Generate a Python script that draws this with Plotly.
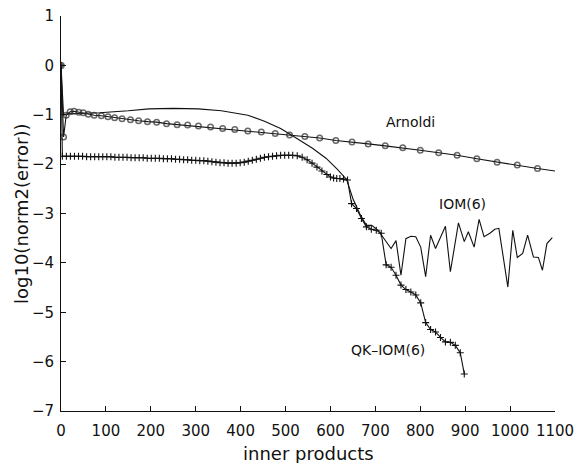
import plotly.graph_objects as go

# ---------------- data ----------------
arnoldi_x = [0, 5.7, 11.6, 20.4, 29.2, 39.6, 49.7, 60.7, 73.9, 90, 104.7, 119.4, 136, 154.6,
             172.8, 192.6, 213, 235, 258.6, 282, 306, 333, 360, 387, 416, 446, 477, 509,
             543, 576, 612, 648, 684, 722, 761, 800, 841, 882, 926, 971, 1016, 1061, 1101]
arnoldi_y = [0, -1.45, -1.01, -0.94, -0.93, -0.95, -0.96, -0.99, -1.01, -1.02, -1.04, -1.06,
             -1.08, -1.10, -1.12, -1.14, -1.15, -1.18, -1.20, -1.21, -1.23, -1.25, -1.28,
             -1.30, -1.33, -1.35, -1.38, -1.41, -1.44, -1.47, -1.52, -1.55, -1.59, -1.63,
             -1.67, -1.72, -1.77, -1.82, -1.89, -1.96, -2.02, -2.09, -2.14]

iom_x = [0, 5.7, 13, 86, 150, 196, 250, 306, 357, 416, 453, 489, 511, 533, 560, 590, 615,
         636, 650, 665, 680, 692, 706, 735, 746, 757, 768, 779, 790, 801, 812, 823, 834,
         856, 867, 885, 898, 907, 920, 931, 942, 955, 966, 975, 984, 995, 1006, 1016,
         1028, 1039, 1052, 1063, 1072, 1082, 1094]
iom_y = [0, -1.01, -0.98, -0.96, -0.92, -0.88, -0.87, -0.88, -0.92, -1.01, -1.13, -1.28,
         -1.40, -1.52, -1.68, -1.88, -2.10, -2.31, -2.70, -3.00, -3.24, -3.24, -3.34,
         -3.71, -3.55, -4.25, -3.51, -3.46, -3.47, -3.68, -4.28, -3.44, -3.71, -3.26,
         -4.18, -3.19, -3.57, -3.37, -3.68, -3.12, -3.47, -3.40, -3.32, -3.30, -3.81,
         -4.49, -3.34, -3.89, -3.81, -3.44, -3.88, -3.89, -4.15, -3.61, -3.49]

qk_x = [0, 3, 12, 21, 30, 39, 48, 57, 66, 75, 84, 93, 102, 111, 120, 129, 138, 147, 156,
        165, 174, 183, 192, 201, 210, 219, 228, 237, 246, 255, 264, 273, 282, 291, 300,
        309, 318, 327, 336, 345, 354, 363, 372, 381, 390, 399, 408, 417, 426, 435, 444,
        453, 462, 471, 480, 489, 498, 507, 516, 526, 537, 548, 559, 570, 581, 592, 600,
        607, 614, 621, 629, 638, 647, 658, 669, 680, 691, 702, 713, 724, 735, 746, 757,
        768, 779, 790, 801, 812, 823, 834, 845, 856, 867, 878, 889, 898]
qk_y = [0, -1.84,
        -1.84, -1.84, -1.84, -1.84, -1.84, -1.85, -1.85, -1.85, -1.85, -1.85, -1.85, -1.85, -1.86,
        -1.86, -1.86, -1.86, -1.87, -1.87, -1.87, -1.87, -1.88, -1.88, -1.88, -1.88, -1.89,
        -1.89, -1.89, -1.90, -1.90, -1.91, -1.91, -1.92, -1.92,
        -1.93, -1.93, -1.94, -1.95, -1.96, -1.97, -1.97, -1.98, -1.98, -1.98, -1.97,
        -1.96, -1.94, -1.92, -1.90, -1.88, -1.86, -1.85, -1.84, -1.83, -1.82, -1.82,
        -1.82, -1.82, -1.83, -1.86, -1.91,
        -1.98, -2.06, -2.14, -2.21, -2.26, -2.28, -2.29, -2.29, -2.30, -2.32,
        -2.80, -2.90, -3.10, -3.27, -3.32, -3.34, -3.40, -4.04, -4.09, -4.25, -4.45,
        -4.54, -4.59, -4.65, -4.81, -5.21, -5.35, -5.40, -5.51, -5.60, -5.61, -5.67,
        -5.82, -6.25]

x_ticks = [0, 100, 200, 300, 400, 500, 600, 700, 800, 900, 1000, 1100]
y_ticks = [-7, -6, -5, -4, -3, -2, -1, 0, 1]

labels = ["Arnoldi", "IOM(6)", "QK\u2013IOM(6)"]
label_x = [779, 893, 816]
label_y = [-1.14, -2.80, -5.77]

FONT = "DejaVu Sans"
INK = "#111111"

fig = go.Figure()

# IOM(6) plain line
fig.add_trace(go.Scatter(x=iom_x, y=iom_y, mode="lines",
                         line=dict(color=INK, width=1.1), name="IOM(6)", showlegend=False))

# Arnoldi with open circles
n_a = len(arnoldi_x)
a_sym = ["circle"] + ["circle-open"] * (n_a - 1)
a_size = [6] + [5.5] * (n_a - 2) + [0]
fig.add_trace(go.Scatter(x=arnoldi_x, y=arnoldi_y, mode="lines+markers",
                         line=dict(color=INK, width=1.1),
                         marker=dict(symbol=a_sym, size=a_size, color="#2a2a2a",
                                     line=dict(color="#2a2a2a", width=1.5)),
                         name="Arnoldi", showlegend=False))

# QK-IOM(6) with plus markers
fig.add_trace(go.Scatter(x=qk_x, y=qk_y, mode="lines+markers",
                         line=dict(color=INK, width=1.1),
                         marker=dict(symbol="cross-thin", size=5, color=INK,
                                     line=dict(color=INK, width=1.1)),
                         name="QK-IOM(6)", showlegend=False))

anns = []
for t, ax_, ay_ in zip(labels, label_x, label_y):
    anns.append(dict(x=ax_, y=ay_, xref="x", yref="y", text=t, showarrow=False,
                     xanchor="right" if t.startswith("QK") else "center", yanchor="middle",
                     font=dict(family=FONT, size=14, color=INK)))

# axis titles
anns.append(dict(x=0.5, y=-0.108, xref="paper", yref="paper", text="inner products",
                 showarrow=False, xanchor="center", yanchor="middle",
                 font=dict(family=FONT, size=18, color=INK)))
anns.append(dict(x=-0.08, y=0.5, xref="paper", yref="paper", text="log10(norm2(error))",
                 showarrow=False, xanchor="center", yanchor="middle", textangle=-90,
                 font=dict(family=FONT, size=18, color=INK)))

fig.update_layout(
    width=575, height=463,
    autosize=False,
    margin=dict(l=61, r=20, t=16, b=52, autoexpand=False),
    paper_bgcolor="white", plot_bgcolor="white",
    font=dict(family=FONT, size=15, color=INK),
    annotations=anns,
    xaxis=dict(range=[0, 1100], tickvals=x_ticks, ticktext=[str(v) for v in x_ticks],
               automargin=False,
               showgrid=False, zeroline=False, showline=True, linecolor=INK, linewidth=1,
               ticks="inside", ticklen=5, tickcolor=INK, tickwidth=1,
               ticklabeloverflow="allow",
               ticklabelstandoff=6, tickfont=dict(family=FONT, size=15, color=INK)),
    yaxis=dict(range=[-7, 1], tickvals=y_ticks,
               automargin=False,
               showgrid=False, zeroline=False, showline=True, linecolor=INK, linewidth=1,
               ticks="inside", ticklen=5, tickcolor=INK, tickwidth=1,
               ticklabeloverflow="allow",
               ticklabelstandoff=3, tickfont=dict(family=FONT, size=15, color=INK)),
)

fig.write_html("out.html", config={"displayModeBar": False},
               post_script="document.body.style.margin='0px';document.body.style.overflow='hidden';")
